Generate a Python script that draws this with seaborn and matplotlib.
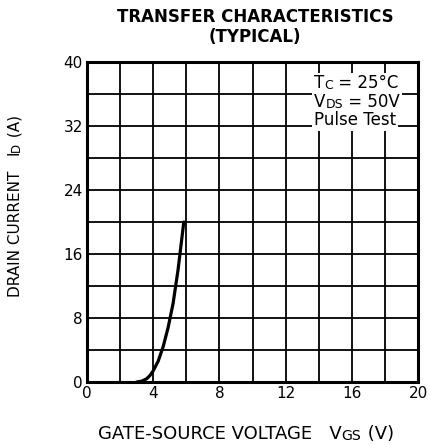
import matplotlib
matplotlib.use("Agg")
import matplotlib.pyplot as plt
from matplotlib.patches import Rectangle
from matplotlib.transforms import Bbox
import seaborn as sns
import pandas as pd

# ---- data ----
vgs = [3.0, 3.3, 3.6, 3.8, 4.0, 4.3, 4.6, 4.9, 5.2, 5.5, 5.85]
id_a = [0.0, 0.1, 0.4, 0.8, 1.4, 2.6, 4.4, 6.8, 9.8, 14.0, 20.0]
x_ticks = [0, 4, 8, 12, 16, 20]
y_ticks = [0, 8, 16, 24, 32, 40]
x_grid = list(range(0, 21, 2))
y_grid = list(range(0, 41, 4))

sns.set_theme(style="white")
plt.rcParams['font.family'] = ['DejaVu Sans']
plt.rcParams['text.color'] = 'black'
plt.rcParams['xtick.color'] = 'black'
plt.rcParams['ytick.color'] = 'black'

W, H = 430, 445
fig = plt.figure(figsize=(W / 100, H / 100), dpi=100)
ax = fig.add_axes([87 / W, (H - 382) / H, 331 / W, 320 / H])

df = pd.DataFrame({"VGS": vgs, "ID": id_a})
sns.lineplot(data=df, x="VGS", y="ID", ax=ax, color="black", lw=2.3,
             sort=True, zorder=4)

ax.set_xlim(0, 20)
ax.set_ylim(0, 40)
for g in x_grid:
    ax.axvline(g, color="black", lw=1.3, zorder=1)
for g in y_grid:
    ax.axhline(g, color="black", lw=1.3, zorder=1)
ax.set_xticks(x_ticks)
ax.set_yticks(y_ticks)
ax.set_xticklabels([str(t) for t in x_ticks], fontsize=11)
ax.set_yticklabels([str(t) for t in y_ticks], fontsize=11)
ax.tick_params(length=0, pad=3, colors="black")
for s in ax.spines.values():
    s.set_visible(True)
    s.set_color("black")
    s.set_linewidth(2.2)
    s.set_zorder(5)
ax.set_xlabel("")
ax.set_ylabel("")


def chain(parts, x, y, rotation=0):
    """Draw consecutive text pieces on a shared baseline (figure pixels)."""
    arts = []
    prev = None
    for txt, size in parts:
        kw = dict(fontsize=size, color="black", rotation=rotation, zorder=6)
        if prev is None:
            if rotation == 90:
                prev = fig.text(x / W, y / H, txt, ha="right", va="bottom", **kw)
            else:
                prev = fig.text(x / W, y / H, txt, ha="left", va="bottom", **kw)
        else:
            if rotation == 90:
                prev = ax.annotate(txt, xy=(1, 1), xycoords=prev, ha="right",
                                   va="bottom", annotation_clip=False, **kw)
            else:
                prev = ax.annotate(txt, xy=(1, 0), xycoords=prev, ha="left",
                                   va="bottom", annotation_clip=False, **kw)
        arts.append(prev)
    return arts

# title
fig.text(255 / W, (H - 17) / H, "TRANSFER CHARACTERISTICS", ha="center",
         va="center", fontsize=12, fontweight="bold")
fig.text(255 / W, (H - 37) / H, "(TYPICAL)", ha="center", va="center",
         fontsize=12, fontweight="bold")

# x label
XL = 13
chain([("GATE-SOURCE VOLTAGE   V", XL), ("GS", XL * 0.78), (" (V)", XL)],
      98, H - 443)
# y label (rotated)
YL = 11
chain([("DRAIN CURRENT   I", YL), ("D", YL * 0.78), (" (A)", YL)], 23, H - 297,
      rotation=90)

# condition box
LF = 12
rows = [
    chain([("T", LF), ("C", LF * 0.75), (" = 25°C", LF)], 314, H - 92),
    chain([("V", LF), ("DS", LF * 0.75), (" = 50V", LF)], 314, H - 111),
    chain([("Pulse Test", LF)], 314, H - 129),
]
fig.canvas.draw()
r = fig.canvas.get_renderer()
for arts in rows:
    bb = Bbox.union([a.get_window_extent(r) for a in arts])
    x0, y0 = bb.x0 - 2, bb.y0 - 1.5
    w, h = bb.width + 4, bb.height + 3
    ax.add_patch(Rectangle((x0 / W, y0 / H), w / W, h / H,
                           transform=fig.transFigure, facecolor="white",
                           edgecolor="none", zorder=2, clip_on=False))

fig.savefig("out.png", dpi=100, facecolor="white")
